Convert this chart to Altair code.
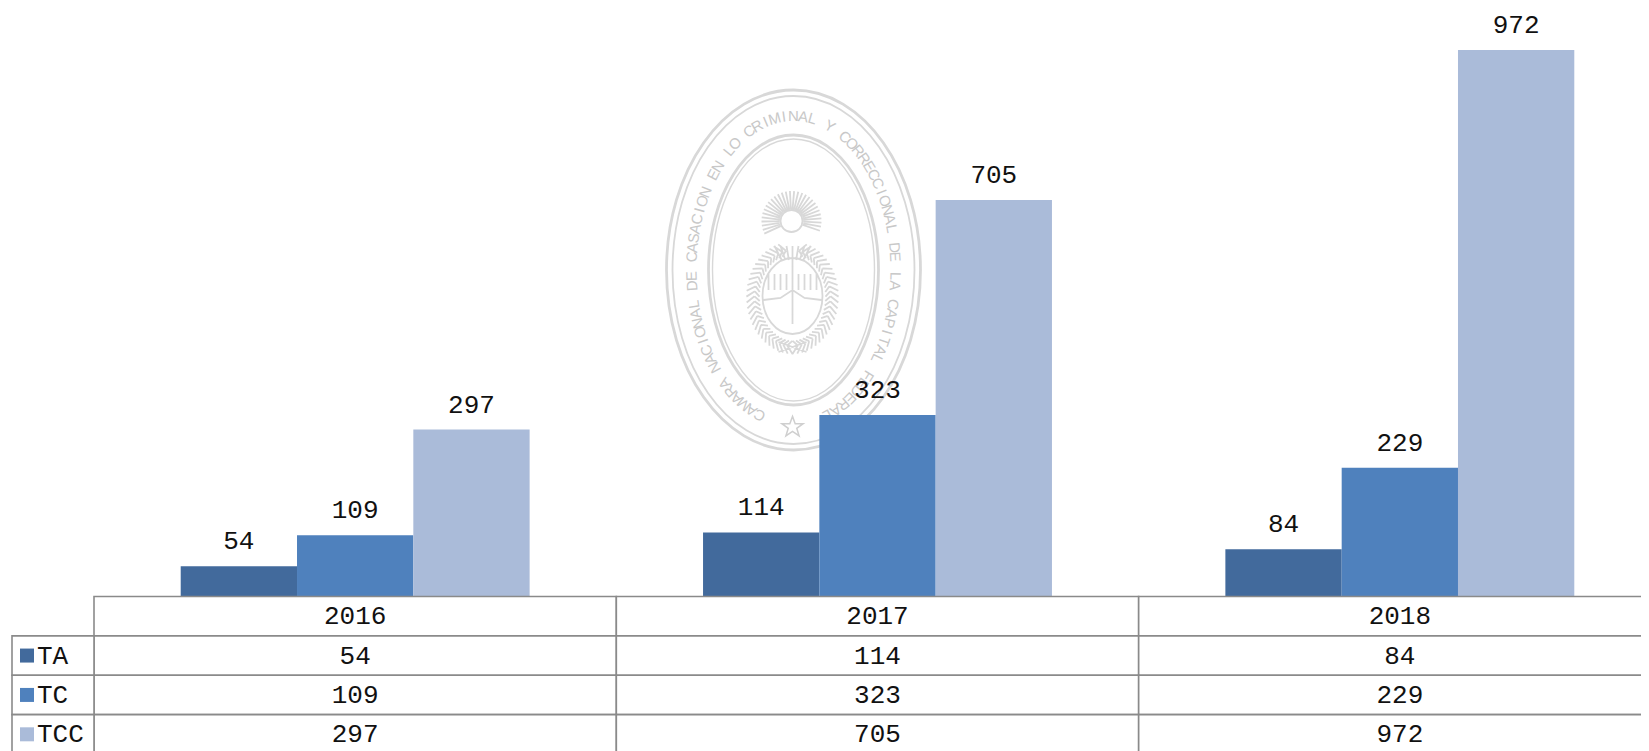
import math
import altair as alt
import pandas as pd

years = ["2016", "2017", "2018"]
series = ["TA", "TC", "TCC"]
ta = [54, 114, 84]
tc = [109, 323, 229]
tcc = [297, 705, 972]
colors = ["#426a9c", "#4f81bd", "#aabbd9"]
rows = ["Año", "TA", "TC", "TCC"]
seal_text = "CAMARA NACIONAL DE CASACION EN LO CRIMINAL Y CORRECCIONAL DE LA CAPITAL FEDERAL"

FONT = "Liberation Mono"
FS = 26
GRID = "#8a8a8a"
SEAL = "#d8d8d8"
W, H = 1633, 743
X_RANGE = [86, 1653]
Y_ROWS = [588.5, 746]
SEAL_C = (785.5, 262)

df = pd.DataFrame(
    [{"year": y, "series": s, "value": v}
     for s, vals in zip(series, [ta, tc, tcc]) for y, v in zip(years, vals)]
)

x_bar = alt.X("year:N", axis=None, sort=years,
              scale=alt.Scale(type="band", domain=years, range=X_RANGE, paddingInner=0.332, paddingOuter=0.166))
x_off = alt.XOffset("series:N", sort=series,
                    scale=alt.Scale(type="band", domain=series, paddingInner=0, paddingOuter=0))
y_val = alt.Y("value:Q", axis=None, scale=alt.Scale(domain=[0, 972], range=[588.5, 42]))
col = alt.Color("series:N", legend=None, scale=alt.Scale(domain=series, range=colors))

bars = alt.Chart(df).mark_bar().encode(x=x_bar, xOffset=x_off, y=y_val, color=col)
bar_labels = alt.Chart(df).mark_text(font=FONT, fontSize=FS, color="#111111", baseline="middle", dy=-25).encode(
    x=x_bar, xOffset=x_off, y=y_val, text="value:Q")

# table
x_tab = alt.X("year:N", axis=None, sort=years,
              scale=alt.Scale(type="band", domain=years, range=X_RANGE, paddingInner=0, paddingOuter=0))
y_row = alt.Y("row:N", axis=None, sort=rows,
              scale=alt.Scale(type="band", domain=rows, range=Y_ROWS, paddingInner=0, paddingOuter=0))

cells = pd.DataFrame(
    [{"year": y, "row": rows[0], "label": y} for y in years]
    + [{"year": r["year"], "row": r["series"], "label": str(r["value"])} for _, r in df.iterrows()]
)
legend_df = pd.DataFrame({"row": series, "series": series})

table_rect = alt.Chart(cells).mark_rect(fill="white", stroke=GRID, strokeWidth=1.6).encode(x=x_tab, y=y_row)
table_text = alt.Chart(cells).mark_text(font=FONT, fontSize=FS, color="#111111", baseline="middle").encode(
    x=x_tab, y=y_row, text="label:N")
legend_rect = alt.Chart(legend_df).mark_rect(fill="white", stroke=GRID, strokeWidth=1.6).encode(
    x=alt.value(4), x2=alt.value(86), y=y_row)
legend_sw = alt.Chart(legend_df).mark_point(shape="square", filled=True, size=196, opacity=1).encode(
    x=alt.value(19), y=y_row, color=col)
legend_txt = alt.Chart(legend_df).mark_text(font=FONT, fontSize=FS, color="#111111", align="left", baseline="middle").encode(
    x=alt.value(29), y=y_row, text="series:N")


# seal (decorative watermark behind the bars)
def ellipse_path(rx, ry, unit=100):
    a, b = rx / unit, ry / unit
    return f"M {-a} 0 A {a} {b} 0 1 0 {a} 0 A {a} {b} 0 1 0 {-a} 0 Z"


def seal_mark(path, width=1.5):
    return alt.Chart(pd.DataFrame({"k": [0]})).mark_point(
        shape=path, size=40000, stroke=SEAL, strokeWidth=width, fill=None, opacity=1, filled=False
    ).encode(x=alt.value(SEAL_C[0]), y=alt.value(SEAL_C[1]))


rings = [seal_mark(ellipse_path(rx, ry), w) for rx, ry, w in
         [(127, 180, 2.8), (121, 174, 1.8), (85, 135, 2.8), (81, 131, 1.4)]]

# letters running round the ellipse
RX, RY = 102, 154
start, end = math.radians(17), math.radians(343)
n = 2000
acc = [0.0]
for i in range(1, n + 1):
    p0 = start + (end - start) * (i - 1) / n
    p1 = start + (end - start) * i / n
    acc.append(acc[-1] + math.hypot(RX * (math.sin(p1) - math.sin(p0)), RY * (math.cos(p1) - math.cos(p0))))
letters = []
for idx, ch in enumerate(seal_text):
    target = acc[-1] * (idx + 0.5) / len(seal_text)
    j = min(range(0, n + 1), key=lambda k: abs(acc[k] - target))
    ph = start + (end - start) * j / n
    px = SEAL_C[0] - RX * math.sin(ph)
    py = SEAL_C[1] + RY * math.cos(ph)
    dx = -RX * math.cos(ph)
    dy = -RY * math.sin(ph)
    letters.append({"ch": ch, "px": px, "py": py, "ang": math.degrees(math.atan2(dy, dx)) % 360})
letters = pd.DataFrame(letters)
seal_letters = alt.Chart(letters).mark_text(font="Liberation Sans", fontSize=15, color="#c8c8c8", baseline="middle").encode(
    x=alt.X("px:Q", scale=None, axis=None), y=alt.Y("py:Q", scale=None, axis=None),
    angle=alt.Angle("ang:Q", scale=None), text="ch:N")
star = alt.Chart(pd.DataFrame({"k": [0]})).mark_point(
    shape="M 0 -0.95 L 0.24 -0.3 L 0.95 -0.3 L 0.38 0.12 L 0.59 0.8 L 0 0.4 L -0.59 0.8 L -0.38 0.12 L -0.95 -0.3 L -0.24 -0.3 Z",
    size=500, stroke="#cfcfcf", strokeWidth=1.5, fill=None, filled=False, opacity=1
).encode(x=alt.value(SEAL_C[0] - 1), y=alt.value(419))


# emblem built as one path, offsets in px / 100
def u(v):
    return round(v / 100, 4)


def emblem_path():
    parts = []
    sx, sy = -2, -49  # sun centre
    for a in range(-115, 116, 8):
        r = math.radians(a)
        parts.append(f"M {u(sx + 12*math.sin(r))} {u(sy - 12*math.cos(r))} L {u(sx + 30*math.sin(r))} {u(sy - 30*math.cos(r))}")
    parts.append(f"M {u(sx-11)} {u(sy)} A {u(11)} {u(11)} 0 1 1 {u(sx+11)} {u(sy)} A {u(11)} {u(11)} 0 1 1 {u(sx-11)} {u(sy)}")
    # shield
    cx, cy = -1, 26
    parts.append(f"M {u(cx-30)} {u(cy)} A {u(30)} {u(38)} 0 1 0 {u(cx+30)} {u(cy)} A {u(30)} {u(38)} 0 1 0 {u(cx-30)} {u(cy)}")
    parts.append(f"M {u(cx-29)} {u(cy+4)} L {u(cx-12)} {u(cy+2)} L {u(cx)} {u(cy-6)} L {u(cx+12)} {u(cy+2)} L {u(cx+29)} {u(cy+4)}")
    parts.append(f"M {u(cx)} {u(cy-36)} L {u(cx)} {u(cy+28)}")
    for k in (-24, -18, -12, -6, 6, 12, 18, 24):
        parts.append(f"M {u(cx+k)} {u(cy-22)} L {u(cx+k)} {u(cy-6)}")
    for k in range(-18, 19, 6):
        parts.append(f"M {u(cx+k)} {u(cy-50)} L {u(cx+k*0.6)} {u(cy-36)}")
    # laurels
    for side in (-1, 1):
        for a in range(10, 176, 6):
            r = math.radians(a)
            bx, by = cx + side * 38 * math.sin(r), cy + 2 - 48 * math.cos(r)
            ex, ey = bx + side * 10 * math.sin(r + 0.7), by - 10 * math.cos(r + 0.7)
            parts.append(f"M {u(bx)} {u(by)} L {u(ex)} {u(ey)}")
            ex2, ey2 = bx - side * 7 * math.sin(r - 0.7), by + 7 * math.cos(r - 0.7)
            parts.append(f"M {u(bx)} {u(by)} L {u(ex2)} {u(ey2)}")
    # ribbon
    parts.append(f"M {u(cx-14)} {u(cy+46)} L {u(cx+14)} {u(cy+56)} M {u(cx+14)} {u(cy+46)} L {u(cx-14)} {u(cy+56)}")
    return " ".join(parts)


emblem = seal_mark(emblem_path(), 1.8)

chart = alt.layer(
    *rings, seal_letters, star, emblem,
    bars, bar_labels,
    table_rect, table_text, legend_rect, legend_sw, legend_txt,
).resolve_scale(x="independent", y="independent", color="independent", xOffset="independent").properties(
    width=W, height=H, padding=0, background="white",
    autosize=alt.AutoSizeParams(type="none"),
).configure_view(stroke=None)

chart.save("out.html", embed_options={"renderer": "svg", "actions": False})
